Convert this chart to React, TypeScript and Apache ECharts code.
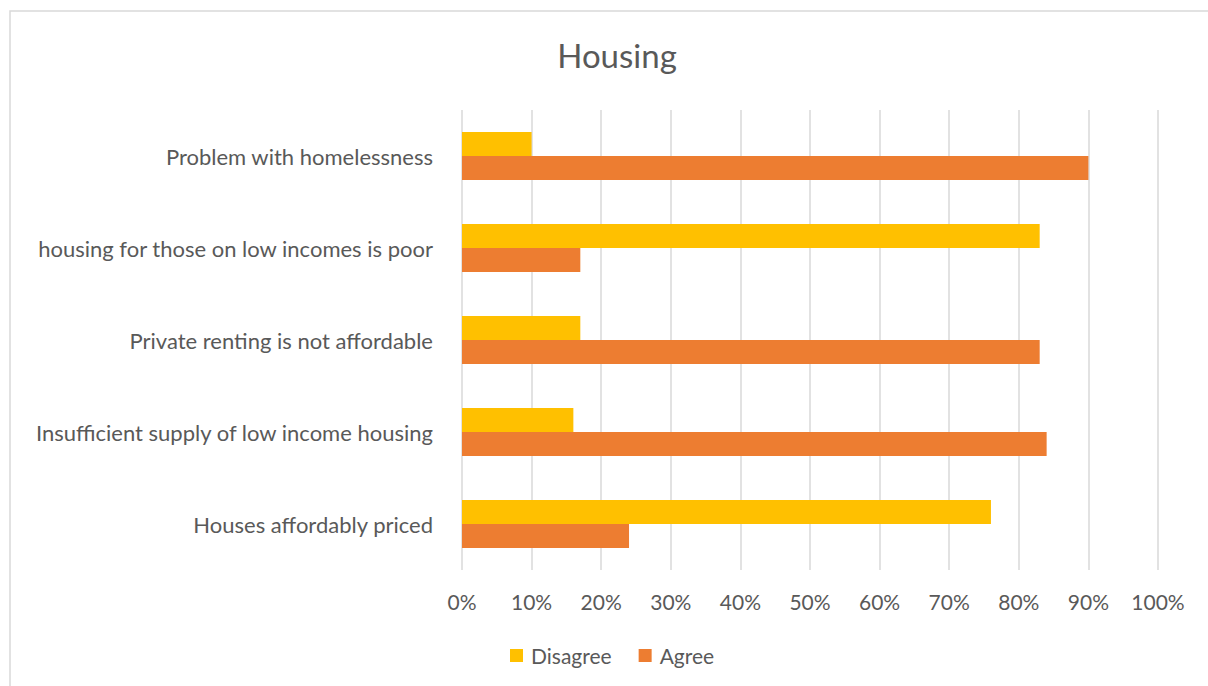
import React, { useEffect, useRef } from "react";
import * as echarts from "echarts";

const categories = [
  "Houses affordably priced",
  "Insufficient supply of low income housing",
  "Private renting is not affordable",
  "housing for those on low incomes is poor",
  "Problem with homelessness",
];
const disagree = [76, 16, 17, 83, 10];
const agree = [24, 84, 83, 17, 90];
const xTicks = [0, 10, 20, 30, 40, 50, 60, 70, 80, 90, 100];

const FONT = "Lato, 'Open Sans', sans-serif";
const TEXT = "#595959";

export default function App() {
  const ref = useRef<HTMLDivElement>(null);
  useEffect(() => {
    if (!ref.current) return;
    const chart = echarts.init(ref.current, undefined, { renderer: "svg" });
    chart.setOption({
      animation: false,
      backgroundColor: "#ffffff",
      title: {
        text: "Housing",
        left: 612,
        textAlign: "center",
        top: 33,
        textStyle: { fontFamily: FONT, fontSize: 33, fontWeight: "normal", color: TEXT },
      },
      graphic: [
        {
          type: "rect",
          shape: { x: 10, y: 11, width: 1400, height: 900 },
          style: { fill: "none", stroke: "#d9d9d9", lineWidth: 1.5 },
          silent: true,
        },
      ],
      legend: {
        data: ["Disagree", "Agree"],
        left: 505,
        top: 640,
        icon: "rect",
        itemWidth: 13,
        itemHeight: 13,
        itemGap: 27,
        textStyle: { fontFamily: FONT, fontSize: 21, color: TEXT, padding: [0, 0, 0, 3] },
      },
      grid: { left: 462, right: 50, top: 110, bottom: 116 },
      xAxis: {
        type: "value",
        min: 0,
        max: 100,
        interval: 10,
        axisLine: { show: false },
        axisTick: { show: false },
        splitLine: { lineStyle: { color: "#d9d9d9", width: 1.5 } },
        axisLabel: {
          fontFamily: FONT,
          fontSize: 21,
          color: TEXT,
          margin: 21,
          formatter: (v: number) => (xTicks.includes(v) ? v + "%" : ""),
        },
      },
      yAxis: {
        type: "category",
        data: categories,
        axisLine: { show: false },
        axisTick: { show: false },
        axisLabel: { fontFamily: FONT, fontSize: 22, color: TEXT, margin: 29 },
      },
      series: [
        {
          name: "Disagree",
          type: "bar",
          data: disagree,
          barWidth: 24,
          barGap: "0%",
          itemStyle: { color: "#ffc000" },
        },
        {
          name: "Agree",
          type: "bar",
          data: agree,
          barWidth: 24,
          barGap: "0%",
          itemStyle: { color: "#ed7d31" },
        },
      ],
    });
    return () => chart.dispose();
  }, []);
  return (
    <div
      ref={ref}
      style={{ position: "fixed", left: 0, top: 0, width: 1208, height: 686, background: "#fff" }}
    />
  );
}
